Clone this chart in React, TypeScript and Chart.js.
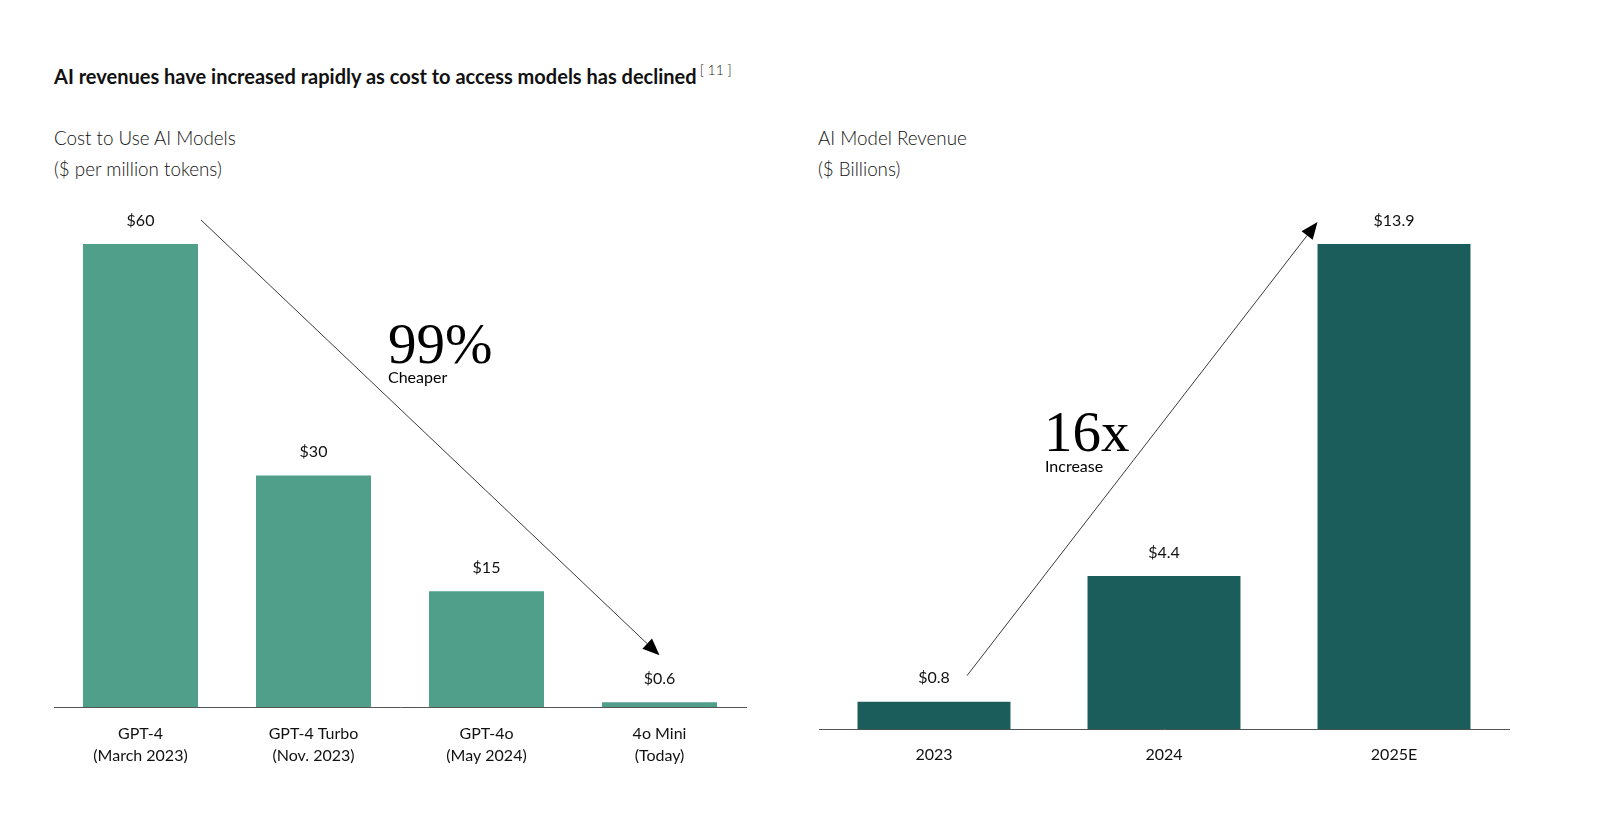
import React, { useEffect, useRef } from "react";
import { Chart, registerables } from "chart.js";

Chart.register(...registerables);

// ---------- data ----------
const costCategories: string[][] = [
  ["GPT-4", "(March 2023)"],
  ["GPT-4 Turbo", "(Nov. 2023)"],
  ["GPT-4o", "(May 2024)"],
  ["4o Mini", "(Today)"],
];
const costValues: number[] = [60, 30, 15, 0.6];
const costValueLabels: string[] = ["$60", "$30", "$15", "$0.6"];

const revenueCategories: string[] = ["2023", "2024", "2025E"];
const revenueValues: number[] = [0.8, 4.4, 13.9];
const revenueValueLabels: string[] = ["$0.8", "$4.4", "$13.9"];

// ---------- styles ----------
const SANS = "Lato, 'Open Sans', 'Noto Sans', sans-serif";
const SERIF = "'Liberation Serif', 'DejaVu Serif', serif";
const LIGHT_GREEN = "#509f8a";
const DARK_TEAL = "#1b5d5a";
const TEXT = "#111";
const LINE = "#3a3a3a";

function drawArrow(ctx: CanvasRenderingContext2D, x1: number, y1: number, x2: number, y2: number) {
  const ang = Math.atan2(y2 - y1, x2 - x1);
  const headLen = 17;
  const headHalf = 7;
  const bx = x2 - headLen * Math.cos(ang);
  const by = y2 - headLen * Math.sin(ang);
  ctx.save();
  ctx.strokeStyle = LINE;
  ctx.fillStyle = "#000";
  ctx.lineWidth = 1;
  ctx.beginPath();
  ctx.moveTo(x1, y1);
  ctx.lineTo(bx, by);
  ctx.stroke();
  ctx.beginPath();
  ctx.moveTo(x2, y2);
  ctx.lineTo(bx + headHalf * Math.sin(ang), by - headHalf * Math.cos(ang));
  ctx.lineTo(bx - headHalf * Math.sin(ang), by + headHalf * Math.cos(ang));
  ctx.closePath();
  ctx.fill();
  ctx.restore();
}

function valueLabels(labels: string[]) {
  return {
    id: "valueLabels",
    afterDatasetsDraw(chart: any) {
      const ctx: CanvasRenderingContext2D = chart.ctx;
      const meta = chart.getDatasetMeta(0);
      ctx.save();
      ctx.font = `16px ${SANS}`;
      ctx.fillStyle = TEXT;
      ctx.textAlign = "center";
      ctx.textBaseline = "middle";
      meta.data.forEach((bar: any, i: number) => {
        ctx.fillText(labels[i], bar.x, bar.y - 23.5);
      });
      ctx.restore();
    },
  };
}

const costAnnotation = {
  id: "costAnnotation",
  afterDatasetsDraw(chart: any) {
    const ctx: CanvasRenderingContext2D = chart.ctx;
    const meta = chart.getDatasetMeta(0);
    const b0 = meta.data[0];
    const b3 = meta.data[meta.data.length - 1];
    drawArrow(ctx, b0.x + b0.width / 2 + 3, b0.y - 24, b3.x, b3.y - 47);
    ctx.save();
    ctx.fillStyle = "#000";
    ctx.textAlign = "left";
    ctx.textBaseline = "alphabetic";
    ctx.font = `57px ${SERIF}`;
    ctx.fillText("99%", 388, 363);
    ctx.font = `16px ${SANS}`;
    ctx.textBaseline = "middle";
    ctx.fillText("Cheaper", 388, 378);
    ctx.restore();
  },
};

const revenueAnnotation = {
  id: "revenueAnnotation",
  afterDatasetsDraw(chart: any) {
    const ctx: CanvasRenderingContext2D = chart.ctx;
    const meta = chart.getDatasetMeta(0);
    const b0 = meta.data[0];
    const b2 = meta.data[meta.data.length - 1];
    drawArrow(ctx, b0.x + 33, b0.y - 26, b2.x - b2.width / 2, b2.y - 22);
    ctx.save();
    ctx.fillStyle = "#000";
    ctx.textAlign = "left";
    ctx.textBaseline = "alphabetic";
    ctx.font = `57px ${SERIF}`;
    ctx.fillText("16x", 244, 451);
    ctx.font = `16px ${SANS}`;
    ctx.textBaseline = "middle";
    ctx.fillText("Increase", 245, 467);
    ctx.restore();
  },
};

function baseOptions(max: number, padding: any, tickPad: number) {
  return {
    responsive: false,
    maintainAspectRatio: false,
    animation: false as const,
    layout: { padding },
    plugins: {
      legend: { display: false },
      tooltip: { enabled: false },
      title: { display: false },
    },
    scales: {
      x: {
        grid: { display: false, drawTicks: false },
        border: { display: true, color: "#555", width: 1 },
        ticks: {
          padding: tickPad,
          color: TEXT,
          font: { family: SANS, size: 16, lineHeight: 1.38 },
          maxRotation: 0,
          autoSkip: false,
        },
        afterFit: (s: any) => {
          s.height = 60;
        },
      },
      y: { display: false, min: 0, max },
    },
  };
}

function CostChart() {
  const ref = useRef<HTMLCanvasElement | null>(null);
  useEffect(() => {
    if (!ref.current) return;
    const chart = new Chart(ref.current, {
      type: "bar",
      data: {
        labels: costCategories,
        datasets: [
          {
            data: costValues,
            backgroundColor: LIGHT_GREEN,
            borderWidth: 0,
            barPercentage: 0.665,
            categoryPercentage: 1,
          },
        ],
      },
      options: baseOptions(60, { left: 54, right: 54, top: 244, bottom: 67 }, 15.5) as any,
      plugins: [valueLabels(costValueLabels), costAnnotation],
    });
    return () => chart.destroy();
  }, []);
  return (
    <canvas
      ref={ref}
      width={800}
      height={834}
      style={{ position: "absolute", left: 0, top: 0, width: 800, height: 834 }}
    />
  );
}

function RevenueChart() {
  const ref = useRef<HTMLCanvasElement | null>(null);
  useEffect(() => {
    if (!ref.current) return;
    const chart = new Chart(ref.current, {
      type: "bar",
      data: {
        labels: revenueCategories,
        datasets: [
          {
            data: revenueValues,
            backgroundColor: DARK_TEAL,
            borderWidth: 0,
            barPercentage: 0.665,
            categoryPercentage: 1,
          },
        ],
      },
      options: baseOptions(13.9, { left: 19, right: 91, top: 244, bottom: 44.4 }, 14) as any,
      plugins: [valueLabels(revenueValueLabels), revenueAnnotation],
    });
    return () => chart.destroy();
  }, []);
  return (
    <canvas
      ref={ref}
      width={800}
      height={834}
      style={{ position: "absolute", left: 800, top: 0, width: 800, height: 834 }}
    />
  );
}

export default function App() {
  const sub: React.CSSProperties = {
    position: "absolute",
    top: 122,
    fontFamily: SANS,
    fontWeight: 300,
    fontSize: 18.8,
    lineHeight: "31px",
    color: "#111",
    whiteSpace: "nowrap",
  };
  return (
    <div
      style={{
        position: "absolute",
        left: 0,
        top: 0,
        width: 1600,
        height: 834,
        background: "#fff",
        overflow: "hidden",
      }}
    >
      <div
        style={{
          position: "absolute",
          left: 54,
          top: 65,
          fontFamily: SANS,
          fontWeight: 700,
          fontSize: 20,
          lineHeight: "22px",
          color: "#111",
          whiteSpace: "nowrap",
        }}
      >
        AI revenues have increased rapidly as cost to access models has declined
        <span
          style={{
            fontWeight: 300,
            fontSize: 14,
            position: "relative",
            top: -9,
            marginLeft: 3,
            color: "#222",
          }}
        >
          [ 11 ]
        </span>
      </div>
      <div style={{ ...sub, left: 54 }}>
        Cost to Use AI Models
        <br />
        ($ per million tokens)
      </div>
      <div style={{ ...sub, left: 818 }}>
        AI Model Revenue
        <br />
        ($ Billions)
      </div>
      <CostChart />
      <RevenueChart />
    </div>
  );
}
